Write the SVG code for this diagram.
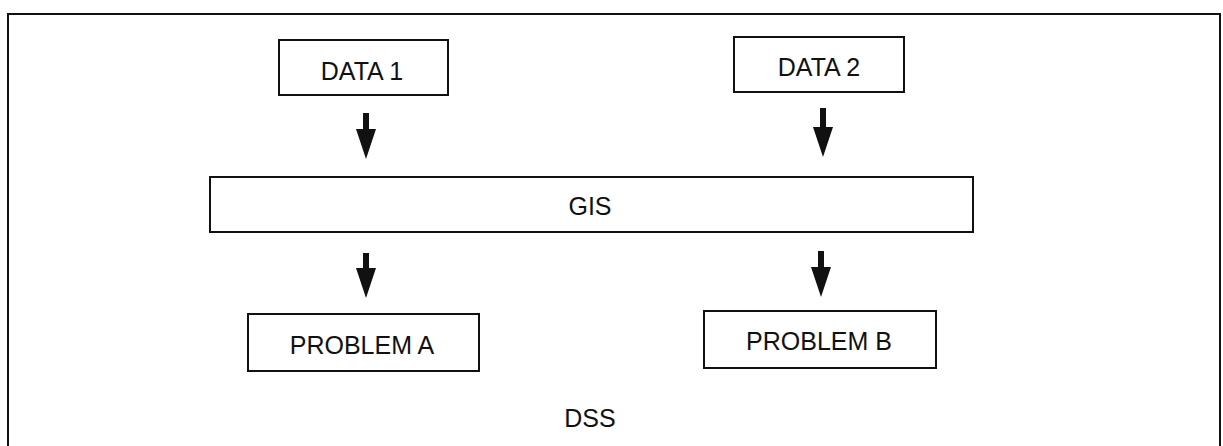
<svg xmlns="http://www.w3.org/2000/svg" width="1223" height="446" viewBox="0 0 1223 446">
  <style>
    .frame { fill: none; stroke: #111; stroke-width: 2; }
    .box { fill: #fff; stroke: #111; stroke-width: 2; }
    .label { font-family: "Liberation Sans", Arial, sans-serif; font-size: 25px; fill: #111; text-anchor: middle; }
    .shaft { stroke: #111; stroke-width: 6; }
  </style>
  <defs>
    <!-- solid triangular head; its base sits at the end of the shaft -->
    <marker id="head" viewBox="0 0 30 20" refX="0" refY="10" markerWidth="30" markerHeight="20" markerUnits="userSpaceOnUse" orient="auto">
      <path d="M0,0 L30,10 L0,20 Z" fill="#111"/>
    </marker>
  </defs>

  <!-- outer DSS frame -->
  <g id="dss">
    <rect class="frame" x="8" y="14" width="1212" height="440"/>
    <text class="label" x="590" y="427">DSS</text>
  </g>

  <g id="data1">
    <rect class="box" x="279" y="40" width="169" height="55"/>
    <text class="label" x="362" y="80">DATA 1</text>
  </g>

  <g id="data2">
    <rect class="box" x="734" y="37" width="170" height="55"/>
    <text class="label" x="819" y="76">DATA 2</text>
  </g>

  <g id="gis">
    <rect class="box" x="210" y="177" width="763" height="55"/>
    <text class="label" x="590" y="215">GIS</text>
  </g>

  <g id="problemA">
    <rect class="box" x="248" y="314" width="231" height="57"/>
    <text class="label" x="362" y="354">PROBLEM A</text>
  </g>

  <g id="problemB">
    <rect class="box" x="704" y="311" width="232" height="57"/>
    <text class="label" x="819" y="350">PROBLEM B</text>
  </g>

  <!-- downward arrows: shaft ends where the head begins -->
  <g id="connectors">
    <line class="shaft" x1="366" y1="113" x2="366" y2="129" marker-end="url(#head)"/>
    <line class="shaft" x1="823" y1="108" x2="823" y2="127" marker-end="url(#head)"/>
    <line class="shaft" x1="366" y1="253" x2="366" y2="268" marker-end="url(#head)"/>
    <line class="shaft" x1="821" y1="251" x2="821" y2="267" marker-end="url(#head)"/>
  </g>
</svg>
